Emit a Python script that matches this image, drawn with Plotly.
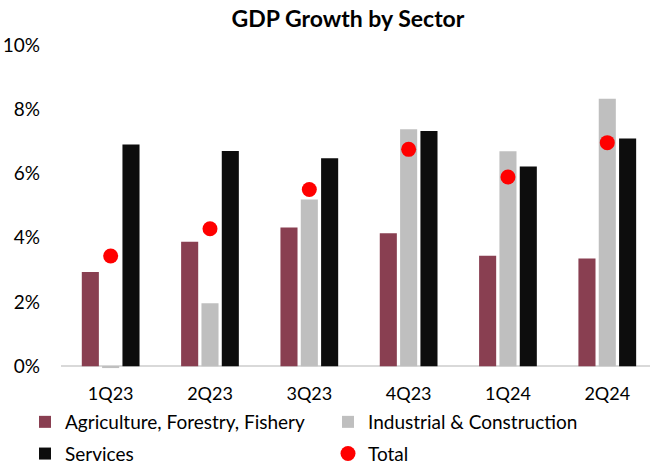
import plotly.graph_objects as go

quarters = ["1Q23", "2Q23", "3Q23", "4Q23", "1Q24", "2Q24"]
agriculture = [2.93, 3.87, 4.32, 4.14, 3.44, 3.35]
industrial = [-0.06, 1.96, 5.19, 7.38, 6.69, 8.33]
services = [6.90, 6.70, 6.47, 7.32, 6.22, 7.09]
total = [3.43, 4.28, 5.50, 6.75, 5.89, 6.96]

FONT = "Lato"

def pct(v):
    return [x / 100 for x in v]

fig = go.Figure()
fig.add_trace(go.Bar(x=quarters, y=pct(agriculture), name="Agriculture, Forestry, Fishery",
                     marker=dict(color="#893F51", line=dict(width=0)),
                     legend="legend", legendgroup="a"))
fig.add_trace(go.Bar(x=quarters, y=pct(industrial), name="Industrial & Construction",
                     marker=dict(color="#BFBFBF", line=dict(width=0)),
                     legend="legend2", legendgroup="b"))
fig.add_trace(go.Bar(x=quarters, y=pct(services), name="Services",
                     marker=dict(color="#0D0D0D", line=dict(width=0)),
                     legend="legend", legendgroup="c"))
fig.add_trace(go.Scatter(x=quarters, y=pct(total), name="Total", mode="markers",
                         marker=dict(color="#FF0000", size=15, line=dict(width=0)),
                         legend="legend2", legendgroup="d"))

legend_common = dict(orientation="v", xref="container", yref="container",
                     xanchor="left", yanchor="top", y=1 - 403/466,
                     font=dict(family=FONT, size=19, color="#000000"),
                     itemwidth=30, bgcolor="rgba(0,0,0,0)", tracegroupgap=4,
                     traceorder="grouped")

fig.update_layout(
    width=650, height=466,
    margin=dict(l=61, r=0, t=45, b=96, autoexpand=False),
    paper_bgcolor="white", plot_bgcolor="white",
    barmode="group", bargap=0.386, bargroupgap=0.16,
    font=dict(family=FONT, size=16, color="#000000"),
    title=dict(text="<b>GDP Growth by Sector</b>", x=348/650, xanchor="center",
               xref="container", y=1 - 19/466, yanchor="middle", yref="container",
               font=dict(family=FONT, size=23, color="#000000")),
    showlegend=True,
    legend=dict(legend_common, x=25/650),
    legend2=dict(legend_common, x=328/650),
    xaxis=dict(range=[-0.5, 5.43], showgrid=False, showline=False, ticks="",
               tickfont=dict(size=18), zeroline=False, ticklabelstandoff=11),
    yaxis=dict(range=[-0.0012, 0.10], tickvals=[0, 0.02, 0.04, 0.06, 0.08, 0.10],
               tickformat=".0%", showgrid=False, showline=False, ticks="",
               zeroline=True, zerolinecolor="#D9D9D9", zerolinewidth=2,
               tickfont=dict(size=19), ticklabelstandoff=20),
)

fig.write_html("out.html")
